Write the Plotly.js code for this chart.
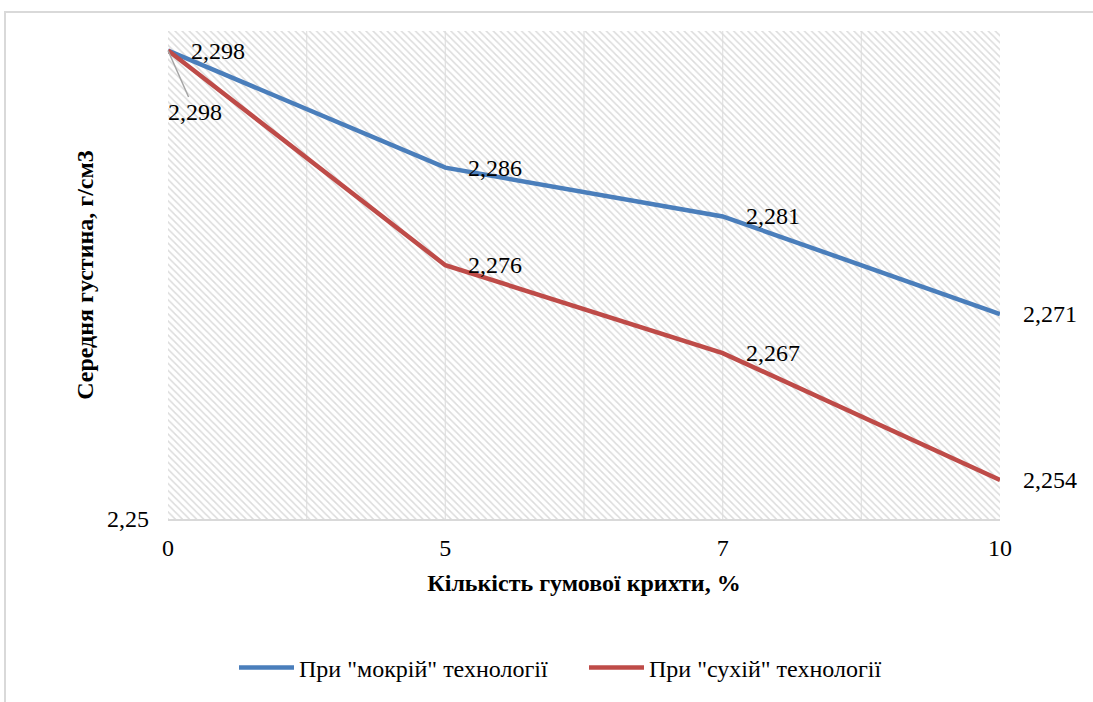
<!DOCTYPE html>
<html>
<head>
<meta charset="utf-8">
<script src="https://cdn.plot.ly/plotly-3.0.1.min.js"></script>
<style>
  html, body { margin: 0; padding: 0; background: #fff; overflow: hidden; }
  #wrap { position: relative; width: 1093px; height: 702px; }
  #frame { position: absolute; left: 4px; top: 11px; width: 1200px; height: 800px; border: 2px solid #d9d9d9; box-sizing: border-box; pointer-events: none; }
  #chart { position: absolute; left: 0; top: 0; width: 1093px; height: 702px; }
</style>
</head>
<body>
<div id="wrap">
  <div id="frame"></div>
  <div id="chart"></div>
</div>
<script>
// ---- data ----
const categories = ['0', '5', '7', '10'];
const wetValues = [2.298, 2.286, 2.281, 2.271];
const dryValues = [2.298, 2.276, 2.267, 2.254];
const seriesNames = ['При "мокрій" технології', 'При "сухій" технології'];
const xTitle = 'Кількість гумової крихти, %';
const yTitle = 'Середня густина, г/см3';
const yRange = [2.25, 2.30];
const yTickVals = [2.25];

const FONT = 'Liberation Serif, DejaVu Serif, Noto Serif, Tinos, Times New Roman, Times, serif';
const BLUE = '#4a7ebb';
const RED = '#be4b48';

const fmt = v => v.toFixed(3).replace('.', ',');

// hatched plot background
const bgTrace = {
  x: [categories[0], categories[categories.length - 1], categories[categories.length - 1], categories[0]],
  y: [yRange[0], yRange[0], yRange[1], yRange[1]],
  mode: 'none',
  fill: 'toself',
  fillcolor: 'rgba(0,0,0,0)',
  fillpattern: { shape: '\\', fgcolor: '#dcdcdc', bgcolor: 'rgba(0,0,0,0)', size: 5, solidity: 0.3 },
  hoverinfo: 'skip',
  showlegend: false
};

const wet = {
  x: categories, y: wetValues, name: seriesNames[0], mode: 'lines',
  line: { color: BLUE, width: 4.5 }, legend: 'legend'
};
const dry = {
  x: categories, y: dryValues, name: seriesNames[1], mode: 'lines',
  line: { color: RED, width: 4.5 }, legend: 'legend2'
};

const labelFont = { family: FONT, size: 24, color: '#000' };
const annotations = [];
categories.forEach((c, i) => {
  annotations.push({
    x: i, y: wetValues[i], text: fmt(wetValues[i]), showarrow: false,
    xanchor: 'left', yanchor: 'middle', xshift: 21, font: labelFont
  });
  if (i === 0) {
    annotations.push({
      x: i, y: dryValues[i], text: fmt(dryValues[i]), showarrow: true,
      arrowhead: 0, arrowwidth: 1.5, arrowcolor: '#a6a6a6', standoff: 0,
      ax: 27, ay: 61, font: labelFont
    });
  } else {
    annotations.push({
      x: i, y: dryValues[i], text: fmt(dryValues[i]), showarrow: false,
      xanchor: 'left', yanchor: 'middle', xshift: 21, font: labelFont
    });
  }
});

// vertical gridlines (at categories and midway between)
const shapes = [];
for (let k = 1; k < categories.length * 2 - 2; k++) {
  shapes.push({
    type: 'line', layer: 'below', xref: 'x', yref: 'paper',
    x0: k / 2, x1: k / 2, y0: 0, y1: 1,
    line: { color: '#e3e3e3', width: 1.3 }
  });
}

const legendBase = {
  orientation: 'h', yanchor: 'middle', y: -0.305, xanchor: 'left',
  font: { family: FONT, size: 24, color: '#000' },
  itemwidth: 55, bgcolor: 'rgba(0,0,0,0)'
};

const layout = {
  width: 1093, height: 702,
  margin: { l: 168, r: 93, t: 31, b: 183, autoexpand: false },
  paper_bgcolor: 'rgba(0,0,0,0)',
  plot_bgcolor: '#ffffff',
  separators: ', ',
  font: { family: FONT, size: 24, color: '#000' },
  xaxis: {
    type: 'category', categoryorder: 'array', categoryarray: categories,
    range: [0, categories.length - 1],
    showgrid: false, zeroline: false,
    showline: true, linecolor: '#d9d9d9', linewidth: 2,
    ticks: '', ticklabelstandoff: 6,
    tickfont: { family: FONT, size: 24, color: '#000' },
    title: { text: xTitle, font: { family: FONT, size: 24, color: '#000', weight: 'bold' }, standoff: 14 },
    fixedrange: true
  },
  yaxis: {
    range: yRange, tickvals: yTickVals, tickformat: '.2f',
    showgrid: false, zeroline: false, showline: false,
    ticks: '', ticklabelstandoff: 18,
    tickfont: { family: FONT, size: 24, color: '#000' },
    title: { text: yTitle, font: { family: FONT, size: 24, color: '#000', weight: 'bold' }, standoff: 6 },
    fixedrange: true
  },
  showlegend: true,
  legend: Object.assign({}, legendBase, { x: (234 - 168) / 832 }),
  legend2: Object.assign({}, legendBase, { x: (584 - 168) / 832 }),
  annotations: annotations,
  shapes: shapes
};

Plotly.newPlot('chart', [bgTrace, wet, dry], layout, { displayModeBar: false, staticPlot: true });
</script>
</body>
</html>
